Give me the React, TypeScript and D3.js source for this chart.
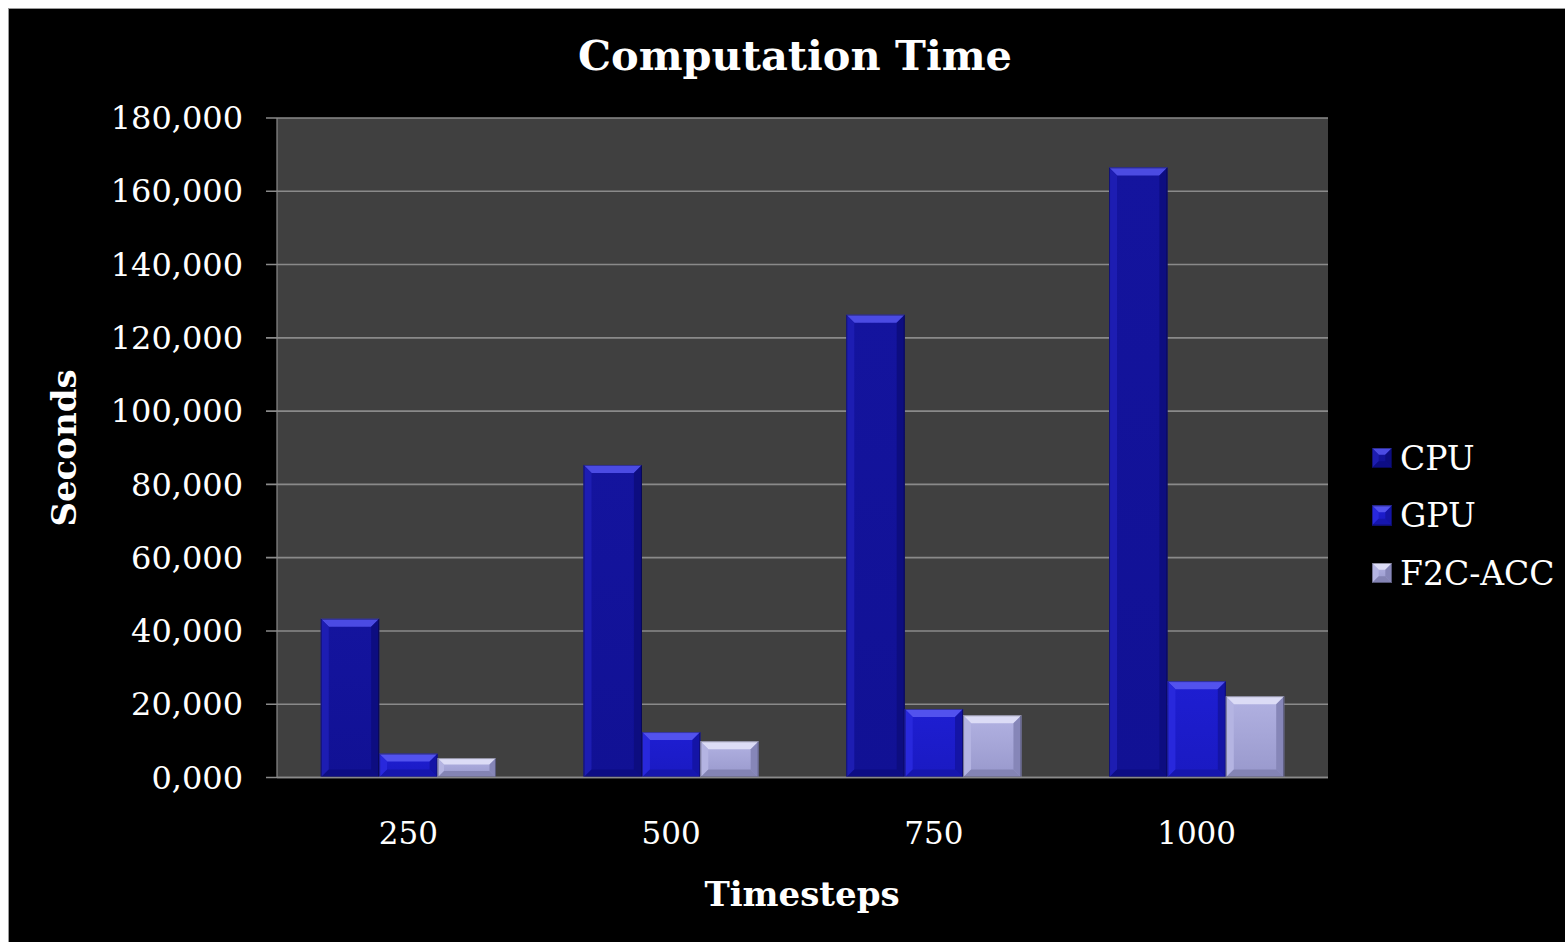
import React from "react";
import * as d3 from "d3";

const categories = ["250", "500", "750", "1000"];
const seriesNames = ["CPU", "GPU", "F2C-ACC"];
const cpuValues = [43300, 85300, 126300, 166500];
const gpuValues = [6500, 12400, 18700, 26300];
const f2cValues = [5300, 9900, 17000, 22200];
const yTicks = [0, 20000, 40000, 60000, 80000, 100000, 120000, 140000, 160000, 180000];

const palettes = [
  { body: "#13139b", top: "#4b4be3", left: "#1d1db2", right: "#0d0d80", bottom: "#0d0d84", grad: ["#14149e", "#111194"] },
  { body: "#1c1ccc", top: "#5252ee", left: "#2828dc", right: "#1414a6", bottom: "#1616ae", grad: ["#1e1ed2", "#1a1ac2"] },
  { body: "#a2a2d6", top: "#dcdcf6", left: "#b4b4e2", right: "#8686b8", bottom: "#8484b4", grad: ["#b2b2e2", "#9898cc"] },
];

const FONT = "'DejaVu Serif', Georgia, serif";

function fmt(v: number) {
  if (v === 0) return "0,000";
  return d3.format(",")(v);
}

function Bar({ x0, x1, y0, y1, s }: { x0: number; x1: number; y0: number; y1: number; s: number }) {
  const p = palettes[s];
  const h = y1 - y0;
  const b = Math.min(8, h / 3, (x1 - x0) / 3);
  const pts = (a: number[][]) => a.map((q) => q.join(",")).join(" ");
  return (
    <g>
      <rect x={x0} y={y0} width={x1 - x0} height={h} fill={`url(#grad${s})`} />
      <polygon points={pts([[x0, y0], [x1, y0], [x1 - b, y0 + b], [x0 + b, y0 + b]])} fill={p.top} />
      <polygon points={pts([[x0, y0], [x0 + b, y0 + b], [x0 + b, y1 - b], [x0, y1]])} fill={p.left} />
      <polygon points={pts([[x1, y0], [x1, y1], [x1 - b, y1 - b], [x1 - b, y0 + b]])} fill={p.right} />
      <polygon points={pts([[x0, y1], [x0 + b, y1 - b], [x1 - b, y1 - b], [x1, y1]])} fill={p.bottom} />
      <rect x={x0 + 0.5} y={y0 + 0.5} width={x1 - x0 - 1} height={h - 1} fill="none" stroke="rgba(0,0,0,0.35)" strokeWidth={1} />
    </g>
  );
}

export default function App() {
  const left = 277, right = 1328, top = 118, bottom = 777.5;
  const x = d3.scaleBand<string>().domain(categories).range([left, right]).paddingInner(0).paddingOuter(0);
  const y = d3.scaleLinear().domain([0, 180000]).range([bottom, top]);
  const bw = x.bandwidth() / 4.5;
  const series = [cpuValues, gpuValues, f2cValues];

  return (
    <svg
      width={1565}
      height={942}
      style={{ display: "block", position: "fixed", left: 0, top: 0 }}
    >
      <defs>
        {palettes.map((p, s) => (
          <linearGradient key={s} id={`grad${s}`} x1="0" y1="0" x2="0" y2="1">
            <stop offset="0" stopColor={p.grad[0]} />
            <stop offset="1" stopColor={p.grad[1]} />
          </linearGradient>
        ))}
      </defs>
      <rect x={0} y={0} width={1565} height={942} fill="#ffffff" />
      <rect x={8} y={9} width={1557} height={933} fill="#000000" />
      <line x1={8} y1={8.5} x2={1565} y2={8.5} stroke="#9a9a9a" strokeWidth={1} />
      <line x1={8.5} y1={9} x2={8.5} y2={942} stroke="#9a9a9a" strokeWidth={1} />
      <rect x={left} y={top} width={right - left} height={bottom - top} fill="#404040" />
      {yTicks.map((t) => (
        <g key={t}>
          <line x1={left - 11} x2={right} y1={y(t)} y2={y(t)} stroke="#8a8a8a" strokeWidth={1.6} />
          <text x={243} y={y(t)} dy="0.35em" textAnchor="end" fill="#ffffff" fontFamily={FONT} fontSize={32}>
            {fmt(t)}
          </text>
        </g>
      ))}
      <line x1={left} x2={left} y1={top} y2={bottom} stroke="#8a8a8a" strokeWidth={1.2} />
      {categories.map((c, i) => {
        const cx = (x(c) as number) + x.bandwidth() / 2;
        return (
          <g key={c}>
            {series.map((vals, s) => {
              const x0 = cx - 1.5 * bw + s * bw;
              return <Bar key={s} x0={x0} x1={x0 + bw} y0={y(vals[i])} y1={y(0)} s={s} />;
            })}
            <text x={cx} y={833} dy="0.35em" textAnchor="middle" fill="#ffffff" fontFamily={FONT} fontSize={31}>
              {c}
            </text>
          </g>
        );
      })}
      <line x1={left} x2={right} y1={bottom} y2={bottom} stroke="#8a8a8a" strokeWidth={1.6} />
      <text x={795} y={70} textAnchor="middle" fill="#ffffff" fontFamily={FONT} fontSize={41.5} fontWeight="bold">
        Computation Time
      </text>
      <text x={802} y={906} textAnchor="middle" fill="#ffffff" fontFamily={FONT} fontSize={34} fontWeight="bold">
        Timesteps
      </text>
      <text
        transform="translate(76,448) rotate(-90)"
        textAnchor="middle"
        fill="#ffffff"
        fontFamily={FONT}
        fontSize={34}
        fontWeight="bold"
      >
        Seconds
      </text>
      {seriesNames.map((n, s) => {
        const ly = 448 + s * 57.5;
        return (
          <g key={n}>
            <Bar x0={1372} x1={1392} y0={ly} y1={ly + 20} s={s} />
            <text x={1400} y={ly + 10} dy="0.36em" fill="#ffffff" fontFamily={FONT} fontSize={33}>
              {n}
            </text>
          </g>
        );
      })}
    </svg>
  );
}
